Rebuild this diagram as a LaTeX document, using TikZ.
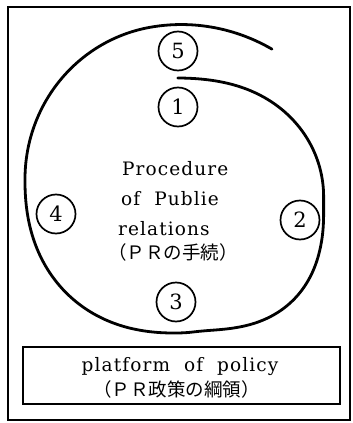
\documentclass[tikz,border=0pt]{standalone}
\usepackage{fontspec}
\setmainfont{DejaVu Serif}
\newfontfamily\jp{Noto Sans CJK JP}
\begin{document}
\begin{tikzpicture}[x=1pt,y=-1pt,
  declare function={
    hin(\x)=(\x<112)*0.5*(1+cos(\x*1.6071));
    hout(\x)=(\x>350)*((\x-350)/47)*((\x-350)/47);
    bA(\x)=max(0,1-((\x-135)/38)*((\x-135)/38));
    bB(\x)=max(0,1-((\x-225)/46)*((\x-225)/46));
    sf(\x)=1-0.344*hin(\x)+0.056*hout(\x)+0.105*bA(\x)*bA(\x)+0.037*bB(\x)*bB(\x);
  },
  num/.style={circle,draw,line width=1.7pt,minimum size=39pt,inner sep=0pt,font=\fontsize{21}{21}\selectfont},
  lat/.style={anchor=base west,inner sep=0pt,font=\fontsize{18.5}{20}\selectfont\addfontfeatures{LetterSpace=6}},
  jpl/.style={inner sep=0pt,font=\fontsize{18.5}{20}\selectfont\jp},
  spiral/.style={line width=2.8pt,line cap=round}]
\useasboundingbox (0,0) rectangle (353,423);
\draw[line width=1.3pt] (8,7) rectangle (350,420);
\draw[spiral] plot[domain=1:397,samples=220,smooth,variable=\x]
  ({176+151*sf(\x)*sin(\x)},{179-154*sf(\x)*cos(\x)});
\node[num] (n5) at (178,51) {5};
\node[num] (n1) at (178,107) {1};
\node[num] (n4) at (56,214) {4};
\node[num] (n2) at (300,220) {2};
\node[num] (n3) at (176,302) {3};
\node[lat] (t1) at (122,175) {Procedure};
\node[lat] (t2) at (121,205) {of\ \ Publie};
\node[lat] (t3) at (118,235) {relations};
\node[jpl,anchor=west] (t4) at (108,252) {（ＰＲの手続）};
\node[draw,line width=1.6pt,minimum width=317pt,minimum height=57pt] (box) at (181.5,375.5) {};
\node[lat,anchor=base] (b1) at (180,371) {platform\ \ of\ \ policy};
\node[jpl] (b2) at (176.5,389) {（ＰＲ政策の綱領）};
\end{tikzpicture}
\end{document}
